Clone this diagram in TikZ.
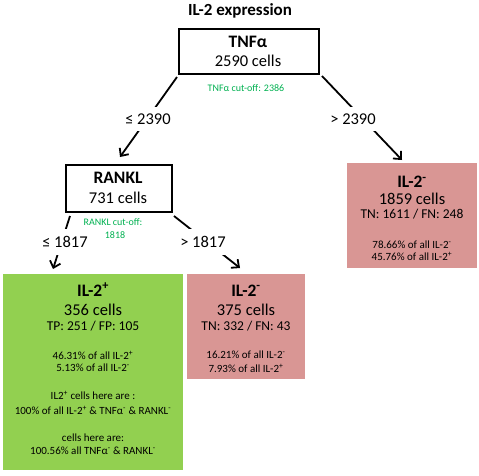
\documentclass[tikz,border=0pt]{standalone}
\usepackage{fontspec}
\setmainfont{Carlito}
\usetikzlibrary{arrows.meta}
\definecolor{boxgreen}{RGB}{146,208,80}
\definecolor{boxpink}{RGB}{217,150,148}
\definecolor{cutgreen}{RGB}{0,176,80}
\newcommand{\fsz}[1]{\fontsize{#1}{#1}\selectfont}
\newcommand{\sps}{\textsuperscript{+}}
\newcommand{\sms}{\textsuperscript{-}}
\begin{document}
\begin{tikzpicture}[x=1pt,y=-1pt,
 txt/.style={anchor=base, inner sep=0pt},
 head/.style={txt, font=\fsz{17.5}\bfseries},
 big/.style={txt, font=\fsz{16.5}},
 mid/.style={txt, font=\fsz{13.5}},
 small/.style={txt, font=\fsz{11}},
 cut/.style={txt, font=\fsz{10}, text=cutgreen},
 dbox/.style={draw, line width=2pt, fill=white, anchor=north west, inner sep=0pt},
 cbox/.style={anchor=north west, inner sep=0pt, draw=none},
 arr/.style={line width=1.8pt, -{Straight Barb[length=6pt,width=11pt]}},
 lbl/.style={fill=white, inner xsep=2pt, inner ysep=7pt, font=\fsz{16.5}},
]
\useasboundingbox (0,0) rectangle (479,475);

% title
\node[txt, font=\fsz{17}\bfseries] (title) at (240,15.5) {IL-2 expression};

% boxes
\node[dbox, minimum width=140pt, minimum height=45pt] (tnf) at (178,28) {};
\node[dbox, minimum width=106pt, minimum height=47pt] (rankl) at (65,164) {};
\node[cbox, fill=boxgreen, minimum width=180pt, minimum height=196pt] (pos) at (3,274) {};
\node[cbox, fill=boxpink, minimum width=118pt, minimum height=105pt] (negm) at (187,274) {};
\node[cbox, fill=boxpink, minimum width=130pt, minimum height=105pt] (negr) at (347,163) {};

% TNF box text
\node[head] (tnfa) at (248,47.6) {TNFα};
\node[big] (tnfb) at (248,66.5) {2590 cells};
\node[cut] (tnfc) at (246,91.2) {TNFα cut-off: 2386};

% RANKL box text
\node[head] (ra) at (118,183.6) {RANKL};
\node[big] (rb) at (118,203.5) {731 cells};
\node[cut] (rc1) at (113,225.2) {RANKL cut-off:};
\node[cut] (rc2) at (115,238.2) {1818};

% green box text
\node[head] (p1) at (93,296) {IL-2\sps};
\node[big] (p2) at (93,315) {356 cells};
\node[mid] (p3) at (93,330.5) {TP: 251 / FP: 105};
\node[small] (p4) at (93,359.5) {46.31\% of all IL-2\sps};
\node[small] (p5) at (93,371.5) {5.13\% of all IL-2\sms};
\node[small] (p6) at (93,399.5) {IL2\sps{} cells here are :};
\node[small] (p7) at (93,414.5) {100\% of all IL-2\sps{} \& TNFα\sms{} \& RANKL\sms};
\node[small] (p8) at (93,441.5) {cells here are:};
\node[small] (p9) at (93,454.5) {100.56\% all TNFα\sms{} \& RANKL\sms};

% middle pink text
\node[head] (m1) at (246,296) {IL-2\sms};
\node[big] (m2) at (246,315) {375 cells};
\node[mid] (m3) at (246,330.5) {TN: 332 / FN: 43};
\node[small] (m4) at (246,358.5) {16.21\% of all IL-2\sms};
\node[small] (m5) at (246,372.5) {7.93\% of all IL-2\sps};

% right pink text
\node[head] (n1) at (412,187.5) {IL-2\sms};
\node[big] (n2) at (412,204.5) {1859 cells};
\node[mid] (n3) at (412,218.5) {TN: 1611 / FN: 248};
\node[small] (n4) at (412,248.5) {78.66\% of all IL-2\sms};
\node[small] (n5) at (412,260.5) {45.76\% of all IL-2\sps};

% connector ends
\coordinate (t1) at (120,157);
\coordinate (t2) at (402,160);
\coordinate (t3) at (53,269);
\coordinate (t4) at (240,268);

% connectors
\draw[arr] ([xshift=-1pt,yshift=-2pt]tnf.south west) -- (t1);
\draw[arr] ([xshift=2pt,yshift=-1pt]tnf.south east) -- (t2);
\draw[arr] ([xshift=5pt,yshift=-3pt]rankl.south west) -- (t3);
\draw[arr] ([xshift=1pt,yshift=-3pt]rankl.south east) -- (t4);

% branch labels
\node[lbl] (l1) at (148,119) {≤ 2390};
\node[lbl] (l2) at (353,119) {> 2390};
\node[lbl] (l3) at (65,242) {≤ 1817};
\node[lbl] (l4) at (203,242) {> 1817};
\end{tikzpicture}
\end{document}
